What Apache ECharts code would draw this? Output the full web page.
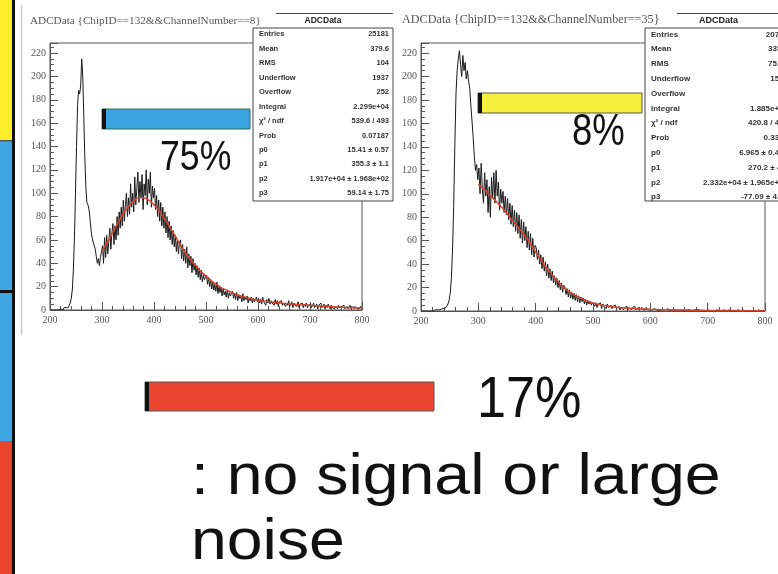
<!DOCTYPE html>
<html>
<head>
<meta charset="utf-8">
<script src="https://cdn.jsdelivr.net/npm/echarts@6/dist/echarts.min.js"></script>
<style>
  html, body { margin: 0; padding: 0; background: #fff; }
  #chart { width: 778px; height: 574px; }
</style>
</head>
<body>
<div id="chart"></div>
<script>
// ADC spectra, 2-count-wide bins starting at 200
const binStart = 200;
const binWidth = 2;

// ChipID 132, channel 8
const adcCh8 = [
  0,0,0,0,0,0,0,1,0,0,1,1,0,2,1,2,3,2,4,6,
  10,18,35,62,100,140,175,188,185,192,
  215,200,165,130,105,92,90,86,78,68,
  62,58,55,52,46,40,44,38,45,50,
  55,40,62,45,64,48,58,70,52,66,74,56,72,60,80,64,84,70,88,72,94,76,90,100,80,
  96,82,108,88,100,84,114,90,104,118,92,110,96,116,86,108,98,120,90,112,100,118,88,106,96,
  104,86,98,80,94,76,92,72,88,70,84,66,80,62,76,60,72,56,68,54,64,50,60,48,58,
  60,44,56,42,52,40,54,36,48,38,46,32,44,34,40,30,38,28,36,26,34,24,30,26,28,
  30,22,28,20,26,18,24,17,22,16,24,14,20,15,19,12,18,13,16,11,17,10,15,12,14,
  16,10,14,9,15,8,13,10,12,7,14,8,11,9,12,6,10,8,11,6,10,7,9,11,7,
  10,6,9,5,11,7,8,4,9,6,10,5,8,6,7,4,9,5,8,3,7,6,8,4,6,
  7,3,6,4,8,3,5,7,2,6,4,5,3,7,2,5,4,6,2,5,3,6,2,4,5,
  5,2,4,6,2,3,5,1,4,3,6,2,3,5,1,4,2,5,3,1,4,2,3,1,3,
  3,1,4,2,1,3,2,4,1,2,3,1,2,4,1,2,3,1,3,2,1,2,1,3,1
];

// ChipID 132, channel 35
const adcCh35 = [
  0,0,0,0,0,0,0,0,0,0,0,0,1,0,1,0,1,1,2,1,
  2,3,4,6,9,15,28,52,90,140,
  185,205,215,222,210,200,218,205,212,198,
  205,196,190,175,162,148,132,120,125,112,
  122,100,126,104,92,118,98,112,84,106,80,114,96,118,92,120,98,110,86,104,92,102,84,98,82,
  96,78,92,74,90,72,86,68,84,66,82,62,78,58,76,60,72,54,68,52,66,48,62,46,56,
  54,44,52,40,48,36,46,34,42,30,40,28,36,26,34,24,30,22,28,20,26,18,24,16,22,
  20,14,19,12,18,11,16,10,15,9,14,8,13,7,12,8,11,6,10,5,9,6,8,5,7,
  8,4,7,3,6,5,7,2,6,4,5,2,6,3,4,5,2,4,3,5,2,3,4,1,3,
  4,1,3,2,4,1,3,2,1,3,2,4,1,2,3,1,2,3,1,2,1,3,1,2,1,
  2,1,1,2,1,1,2,0,1,1,2,1,0,1,1,2,0,1,1,0,1,1,0,1,1,
  0,1,1,0,1,0,1,1,0,1,0,0,1,1,0,1,0,1,0,0,1,0,1,0,0,
  1,0,0,1,0,1,0,0,1,0,0,1,0,0,1,0,0,0,1,0,0,1,0,0,0,
  0,1,0,0,0,1,0,0,0,0,1,0,0,0,1,0,0,0,0,1,0,0,0,0,0
];

// fitted curves, sampled at these ADC values
const fitX = [300,310,320,330,340,350,360,370,380,390,400,410,420,430,440,450,460,470,480,490,
  500,510,520,530,540,550,560,570,580,590,600,620,640,660,680,700,720,740,760,780,800];
const fitCh8 = [51,58,66,74,82,88,93,96,96,94,90,85,78,71,64,56,49,43,38,33,
  29,25,22,19,17,15,13,11.5,10.5,9.5,8.6,7.2,6.2,5.3,4.6,4,3.4,2.9,2.4,2,1.7];
const fitCh35 = [108,104,99,94,89,83,77,71,65,58,50,43,36,30,24.5,20,16,13,10.5,8.5,
  6.8,5.6,4.6,3.9,3.3,2.8,2.4,2.1,1.8,1.6,1.4,1.1,0.9,0.75,0.6,0.5,0.4,0.35,0.3,0.25,0.2];

// axis ranges and tick labels
const xTicks = [200,300,400,500,600,700,800];
const yTicks = [0,20,40,60,80,100,120,140,160,180,200,220];
const yTop = 228.6;

// plot titles and statistics boxes
const titles = ['ADCData {ChipID==132&&ChannelNumber==8}', 'ADCData {ChipID==132&&ChannelNumber==35}'];
const statName = 'ADCData';
const statLabels = ['Entries','Mean','RMS','Underflow','Overflow','Integral','χ² / ndf','Prob','p0','p1','p2','p3'];
const statsCh8 = ['25181','379.6','104','1937','252','2.299e+04','539.6 / 493','0.07187','15.41 ± 0.57','355.3 ± 1.1','1.917e+04 ± 1.968e+02','59.14 ± 1.75'];
const statsCh35 = ['20761','335.2','75.88','1527','','1.885e+04','420.8 / 493','0.3312','6.965 ± 0.412','270.2 ± 4.6','2.332e+04 ± 1.965e+03','-77.09 ± 4.12'];

// fraction of channels in each class
const shares = ['75%', '8%', '17%'];
const noteLines = [': no signal or large', 'noise'];

const toPairs = arr => arr.map((v, i) => [binStart + binWidth * i + binWidth / 2, v]);
const zip = (xs, ys) => xs.map((x, i) => [x, ys[i]]);

const axisGray = '#555';
const serif = '"Liberation Serif", "DejaVu Serif", serif';
const sans = '"Liberation Sans", Arial, sans-serif';

function xAxisFor(gi) {
  return {
    type: 'value', gridIndex: gi, min: xTicks[0], max: xTicks[xTicks.length - 1], interval: 100,
    axisLine: { show: true, lineStyle: { color: axisGray, width: 1 } },
    axisTick: { show: true, inside: true, length: 8, lineStyle: { color: axisGray } },
    minorTick: { show: true, splitNumber: 5, length: 4, lineStyle: { color: axisGray } },
    axisLabel: { color: '#555', fontFamily: serif, fontSize: 10, margin: 5 },
    splitLine: { show: false }
  };
}
function yAxisFor(gi) {
  return {
    type: 'value', gridIndex: gi, min: yTicks[0], max: yTop, interval: 20,
    axisLine: { show: true, lineStyle: { color: axisGray, width: 1 } },
    axisTick: { show: true, inside: true, length: 8, lineStyle: { color: axisGray } },
    minorTick: { show: true, splitNumber: 4, length: 4, lineStyle: { color: axisGray } },
    axisLabel: { color: '#555', fontFamily: serif, fontSize: 10, margin: 4, showMaxLabel: false,
      formatter: v => (yTicks.indexOf(v) >= 0 ? String(v) : '') },
    splitLine: { show: false }
  };
}

function histSeries(arr, gi) {
  return { type: 'line', xAxisIndex: gi, yAxisIndex: gi, data: toPairs(arr), symbol: 'none',
    lineStyle: { color: '#1a1a1a', width: 1 }, z: 2 };
}
function fitSeries(ys, gi) {
  return { type: 'line', xAxisIndex: gi, yAxisIndex: gi, data: zip(fitX, ys), symbol: 'none', smooth: 0.4,
    lineStyle: { color: '#d8442c', width: 1.5 }, z: 3 };
}

// statistics box: header cell above a body listing label / value rows
function statBox(x0, x1, headLineFrom, rowY0, rowStep, fs, values) {
  const els = [];
  els.push({ type: 'rect', shape: { x: x0, y: 28, width: x1 - x0, height: 173 },
    style: { fill: '#fff', stroke: '#444', lineWidth: 1 }, z: 50 });
  els.push({ type: 'rect', shape: { x: x0, y: 13, width: x1 - x0, height: 15 },
    style: { fill: '#fff', stroke: null }, z: 49 });
  els.push({ type: 'line', shape: { x1: headLineFrom, y1: 13.5, x2: x1, y2: 13.5 },
    style: { stroke: '#444', lineWidth: 1 }, z: 51 });
  els.push({ type: 'text', x: (x0 + x1) / 2, y: 21,
    style: { text: statName, fontFamily: sans, fontWeight: 'bold', fontSize: fs + 1, fill: '#222', align: 'center', verticalAlign: 'middle' }, z: 51 });
  statLabels.forEach((lab, i) => {
    const y = rowY0 + rowStep * i;
    els.push({ type: 'text', x: x0 + 6, y: y,
      style: { text: lab, fontFamily: sans, fontWeight: 'bold', fontSize: fs, fill: '#333', align: 'left', verticalAlign: 'middle' }, z: 51 });
    els.push({ type: 'text', x: x1 - 4, y: y,
      style: { text: values[i], fontFamily: sans, fontWeight: 'bold', fontSize: fs, fill: '#333', align: 'right', verticalAlign: 'middle' }, z: 51 });
  });
  return els;
}

// colour-coded bar with a dark end cap
function legendBar(x, y, w, h, fill, stroke) {
  return [
    { type: 'rect', shape: { x: x, y: y, width: w, height: h }, style: { fill: fill, stroke: stroke, lineWidth: 1 }, z: 60 },
    { type: 'rect', shape: { x: x, y: y, width: 4, height: h }, style: { fill: '#111' }, z: 61 }
  ];
}

// large annotation text, stretched horizontally by sx
function bigText(str, x, y, fs, sx) {
  return { type: 'text', x: x, y: y, scaleX: sx,
    style: { text: str, fontFamily: sans, fontSize: fs, fill: '#111', align: 'left', verticalAlign: 'middle' }, z: 70 };
}

const graphics = [];
// category strip on the left edge
graphics.push({ type: 'rect', shape: { x: 0, y: 0, width: 12, height: 141 }, style: { fill: '#fcee2a' }, z: 10 });
graphics.push({ type: 'rect', shape: { x: 0, y: 141, width: 12, height: 300 }, style: { fill: '#3ea6e3' }, z: 10 });
graphics.push({ type: 'rect', shape: { x: 0, y: 441, width: 12, height: 133 }, style: { fill: '#e9452e' }, z: 10 });
graphics.push({ type: 'rect', shape: { x: 0, y: 290, width: 13, height: 3 }, style: { fill: '#111' }, z: 11 });
graphics.push({ type: 'rect', shape: { x: 0, y: 140, width: 13, height: 1.5 }, style: { fill: '#555' }, z: 11 });
graphics.push({ type: 'rect', shape: { x: 12, y: 0, width: 3, height: 574 }, style: { fill: '#111' }, z: 11 });
// panel edge
graphics.push({ type: 'line', shape: { x1: 21.5, y1: 5, x2: 21.5, y2: 335 }, style: { stroke: '#c9c9df', lineWidth: 1.5 }, z: 5 });

// plot titles
graphics.push({ type: 'text', x: 30, y: 21, style: { text: titles[0], fontFamily: serif, fontSize: 11.2, fill: '#555', verticalAlign: 'middle' }, z: 55 });
graphics.push({ type: 'text', x: 402, y: 20, style: { text: titles[1], fontFamily: serif, fontSize: 12.2, fill: '#555', verticalAlign: 'middle' }, z: 55 });

graphics.push(...statBox(253, 393, 276, 34.3, 14.45, 7.5, statsCh8));
graphics.push(...statBox(645, 792, 677, 34.3, 14.8, 8, statsCh35));

// class bars and shares
graphics.push(...legendBar(102, 109, 148, 20, '#3ba4e0', '#2f6f4f'));
graphics.push(...legendBar(478, 93, 164, 20, '#f6f03c', '#555'));
graphics.push(...legendBar(145, 382, 289, 29, '#ea4530', '#555'));

graphics.push(bigText(shares[0], 160, 158.3, 42, 0.85));
graphics.push(bigText(shares[1], 572, 132.5, 44, 0.83));
graphics.push(bigText(shares[2], 477, 400.5, 58, 0.9));
graphics.push(bigText(noteLines[0], 191, 478, 58, 1.11));
graphics.push(bigText(noteLines[1], 191, 543, 58, 1.11));

const chart = echarts.init(document.getElementById('chart'), null, { renderer: 'canvas' });
chart.setOption({
  animation: false,
  backgroundColor: '#fff',
  grid: [
    { left: 50, top: 43, width: 312, height: 267, show: true, borderColor: axisGray, borderWidth: 1, backgroundColor: 'transparent' },
    { left: 421, top: 43, width: 344, height: 268, show: true, borderColor: axisGray, borderWidth: 1, backgroundColor: 'transparent' }
  ],
  xAxis: [xAxisFor(0), xAxisFor(1)],
  yAxis: [yAxisFor(0), yAxisFor(1)],
  series: [histSeries(adcCh8, 0), fitSeries(fitCh8, 0), histSeries(adcCh35, 1), fitSeries(fitCh35, 1)],
  graphic: graphics
});
</script>
</body>
</html>
